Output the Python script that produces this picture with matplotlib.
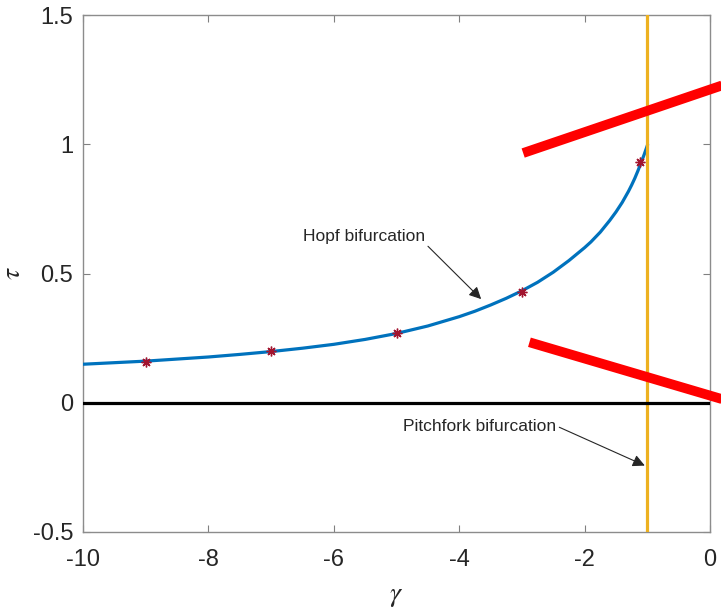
import matplotlib
matplotlib.use("Agg")
import matplotlib.pyplot as plt

plt.rcParams['font.family'] = ['Liberation Sans', 'DejaVu Sans']
plt.rcParams['mathtext.fontset'] = 'stix'

# Hopf curve
gamma_curve = [-10, -9.5, -9, -8.5, -8, -7.5, -7, -6.5, -6, -5.5, -5, -4.5, -4, -3.75,
               -3.5, -3.25, -3, -2.75, -2.5, -2.25, -2, -1.9, -1.75, -1.6, -1.5, -1.4, -1.3,
               -1.25, -1.2, -1.15, -1.1, -1.05, -1]
tau_curve = [0.149, 0.155, 0.161, 0.169, 0.177, 0.187, 0.198, 0.211, 0.226, 0.245, 0.268,
             0.297, 0.333, 0.354, 0.378, 0.404, 0.433, 0.466, 0.505, 0.55, 0.6, 0.622,
             0.66, 0.705, 0.738, 0.775, 0.818, 0.842, 0.868, 0.897, 0.928, 0.96, 0.995]

# Numerical points (stars)
gamma_pts = [-9, -7, -5, -3, -1.12]
tau_pts = [0.159, 0.199, 0.27, 0.43, 0.93]

# Thick red lines (endpoints)
red_upper_g = [-2.98, 0.5]
red_upper_t = [0.966, 1.253]
red_lower_g = [-2.88, 0.5]
red_lower_t = [0.234, -0.008]

gamma_pitchfork = -1
xlim = [-10, 0]
ylim = [-0.5, 1.5]
xticks = [-10, -8, -6, -4, -2, 0]
yticks = [-0.5, 0, 0.5, 1, 1.5]

fig = plt.figure(figsize=(7.21, 6.10), dpi=100)
ax = fig.add_axes([83/721, 78/610, (710-83)/721, (532-15)/610])

ax.plot(gamma_curve, tau_curve, color='#0072BD', lw=2.3, zorder=3)
ax.plot(gamma_pts, tau_pts, linestyle='none', marker=(8, 2, 0), markersize=7,
        markeredgewidth=1.0, color='#A2142F', zorder=4)
ax.axvline(gamma_pitchfork, color='#EDB120', lw=2.3, zorder=3)
ax.plot(xlim, [0, 0], color='black', lw=2.3, zorder=3)
ax.plot(red_upper_g, red_upper_t, color='#FF0000', lw=7, clip_on=False,
        solid_capstyle='butt', zorder=5)
ax.plot(red_lower_g, red_lower_t, color='#FF0000', lw=7, clip_on=False,
        solid_capstyle='butt', zorder=5)

ax.set_xlim(xlim)
ax.set_ylim(ylim)
ax.set_xticks(xticks)
ax.set_yticks(yticks)
ax.set_xticklabels(['-10', '-8', '-6', '-4', '-2', '0'])
ax.set_yticklabels(['-0.5', '0', '0.5', '1', '1.5'])
ax.tick_params(direction='in', length=5, width=0.8, color='#808080',
               labelsize=17, labelcolor='#262626', top=True, right=True)
ax.tick_params(axis='x', pad=12)
ax.tick_params(axis='y', pad=7)
for s in ax.spines.values():
    s.set_color('#8c8c8c')
    s.set_linewidth(1.0)

ax.set_xlabel(r'$\gamma$', fontsize=20, color='#262626', labelpad=9)
ax.set_ylabel(r'$\tau$', fontsize=20, color='#262626', labelpad=5)

ax.annotate('Hopf bifurcation', xy=(-3.65, 0.401), xytext=(-6.49, 0.645),
            fontsize=12.5, color='#262626', va='center', ha='left',
            arrowprops=dict(arrowstyle='-|>', color='#262626', lw=0.8,
                            mutation_scale=18, shrinkA=0, shrinkB=0,
                            relpos=(1.0, 0.0)))
ax.annotate('Pitchfork bifurcation', xy=(-1.04, -0.243), xytext=(-4.89, -0.09),
            fontsize=12.5, color='#262626', va='center', ha='left',
            arrowprops=dict(arrowstyle='-|>', color='#262626', lw=0.8,
                            mutation_scale=18, shrinkA=0, shrinkB=0,
                            relpos=(1.0, 0.5)))

fig.savefig('out.png', dpi=100)
